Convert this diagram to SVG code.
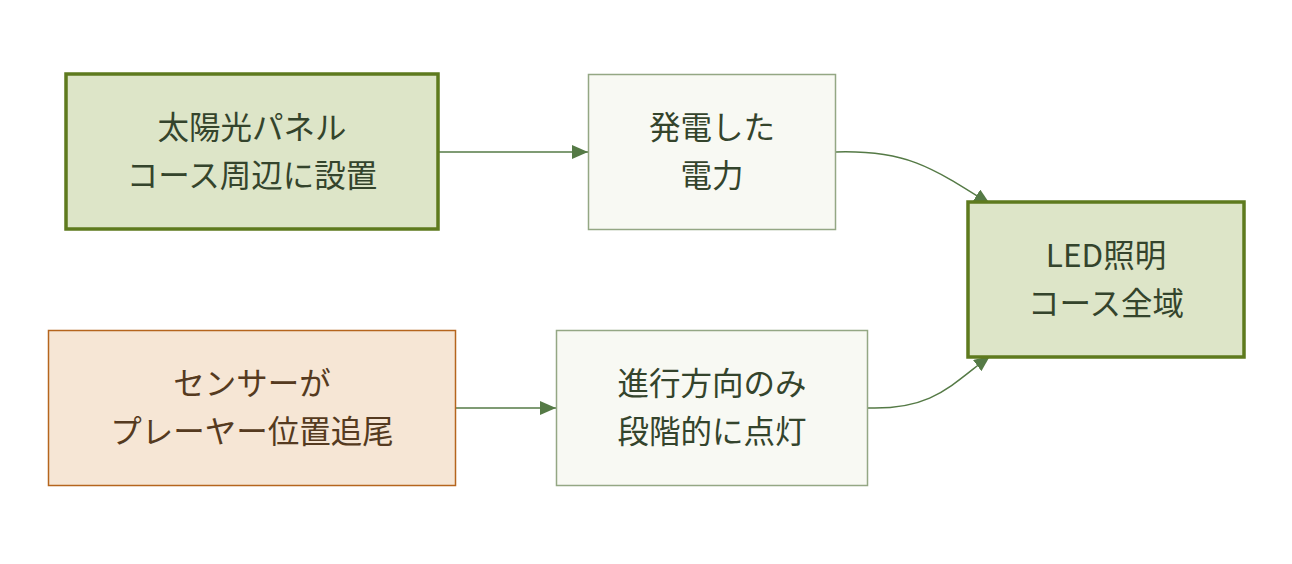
<svg xmlns="http://www.w3.org/2000/svg" width="1292" height="564" viewBox="0 0 1292 564">
<defs>
<marker id="arr" viewBox="0 0 16 14" refX="16" refY="7" markerWidth="16" markerHeight="14" markerUnits="userSpaceOnUse" orient="auto">
<path d="M0,0 L16,7 L0,14 z" fill="#557a46"/>
</marker>
<style>
.t{font-family:"Noto Sans CJK JP","Liberation Sans",sans-serif;font-size:31.5px;text-anchor:middle}
.g rect{fill:#dde5c8;stroke:#5e7a1e;stroke-width:3.5}
.l rect{fill:#f8f9f3;stroke:#94a784;stroke-width:1.5}
.o rect{fill:#f6e6d5;stroke:#b5651d;stroke-width:1.5}
.g text,.l text{fill:#34442c}
.o text{fill:#553a20}
.e{fill:none;stroke:#557a46;stroke-width:1.5}
</style>
</defs>
<rect width="1292" height="564" fill="#ffffff"/>
<g id="connectors">
<path class="e" d="M439,152 L588,152" marker-end="url(#arr)"/>
<path class="e" d="M456,408 L556,408" marker-end="url(#arr)"/>
<path class="e" d="M836,152 C905,150 930,166 990,204" marker-end="url(#arr)"/>
<path class="e" d="M868,408 C932,410 950,386 990,356" marker-end="url(#arr)"/>
</g>
<g id="solar" class="g">
<rect x="66" y="74" width="372" height="155"/>
<text class="t" x="252" y="139">太陽光パネル</text>
<text class="t" x="252" y="187">コース周辺に設置</text>
</g>
<g id="power" class="l">
<rect x="588.5" y="74.5" width="247" height="155"/>
<text class="t" x="712" y="139">発電した</text>
<text class="t" x="712" y="187">電力</text>
</g>
<g id="led" class="g">
<rect x="968" y="202" width="276" height="155"/>
<text class="t" x="1106" y="267">LED照明</text>
<text class="t" x="1106" y="315">コース全域</text>
</g>
<g id="sensor" class="o">
<rect x="48.5" y="330.5" width="407" height="155"/>
<text class="t" x="252" y="395">センサーが</text>
<text class="t" x="252" y="443">プレーヤー位置追尾</text>
</g>
<g id="stage" class="l">
<rect x="556.5" y="330.5" width="311" height="155"/>
<text class="t" x="712" y="395">進行方向のみ</text>
<text class="t" x="712" y="443">段階的に点灯</text>
</g>
</svg>
